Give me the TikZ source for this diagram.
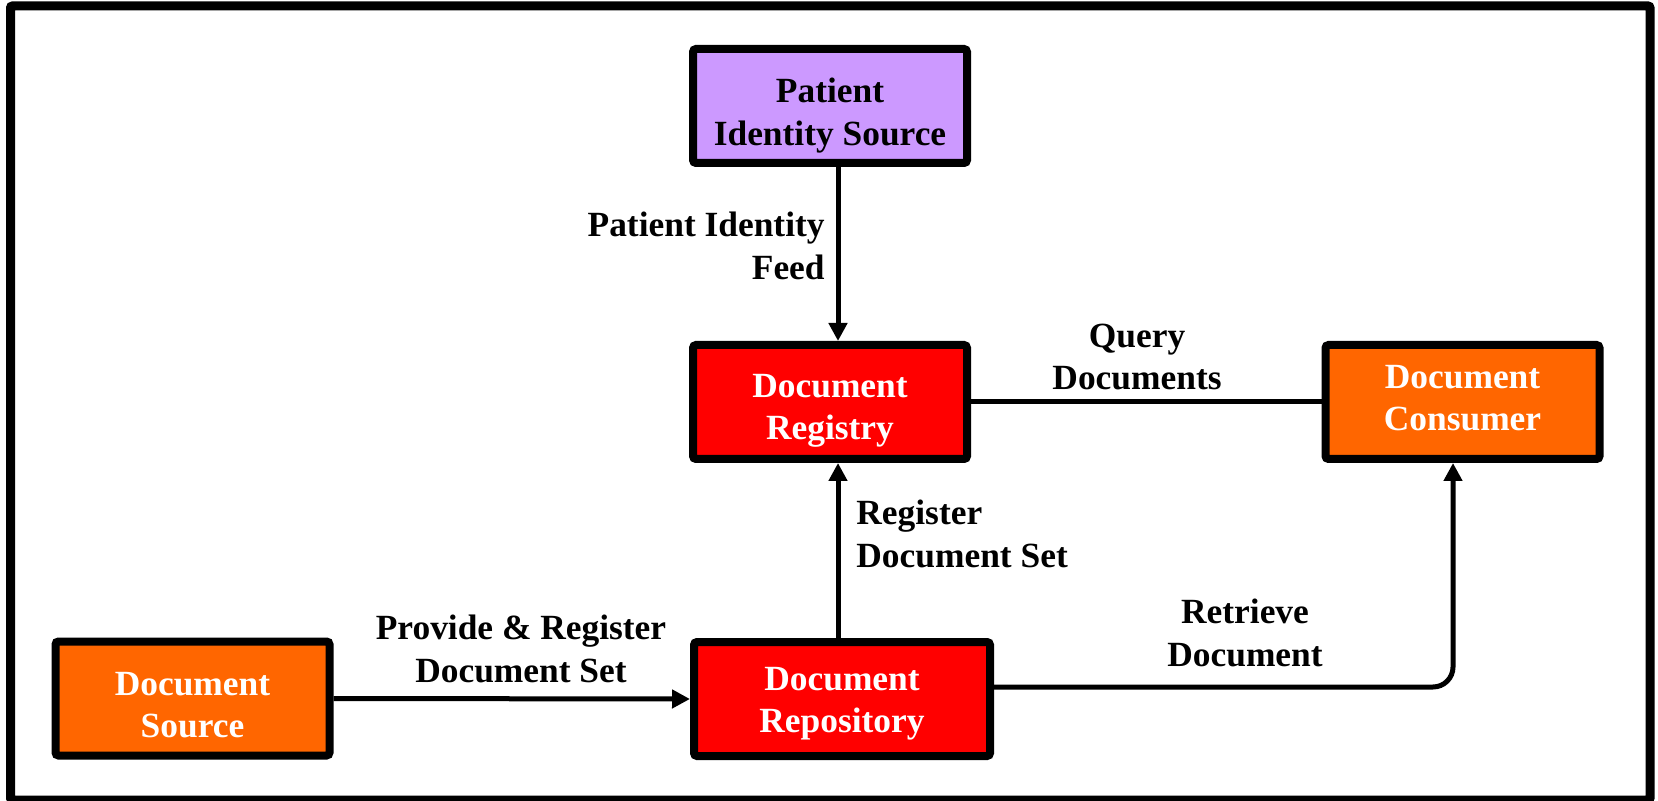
\documentclass[tikz,border=0pt]{standalone}
\usepackage{fontspec}
\setmainfont{Liberation Serif}
\usetikzlibrary{arrows.meta}
\definecolor{pisfill}{HTML}{CC99FF}
\definecolor{regfill}{HTML}{FF0000}
\definecolor{orfill}{HTML}{FF6600}
\newcommand{\tstrutup}[1]{\rule{0pt}{#1}}
\newcommand{\tstrutdn}[1]{\rule[-#1]{0pt}{0pt}}
\begin{document}
\begin{tikzpicture}[x=0.5pt,y=-0.5pt,
  box/.style={draw=black, line width=4pt, rounded corners=1.5pt,
    minimum width=137pt, minimum height=57pt, align=center, inner sep=0pt,
    font=\bfseries\fontsize{17.7}{21.2}\selectfont},
  lbl/.style={font=\bfseries\fontsize{17.7}{21.2}\selectfont, inner sep=0pt},
  conn/.style={line width=2.5pt, -{Triangle[length=9pt,width=9pt]}},
  plain/.style={line width=2.5pt}]
\useasboundingbox (0,0) rectangle (1658,801);
\draw[line width=4.5pt, rounded corners=1pt] (10.5,6) rectangle (1650,800);

\node[box, fill=pisfill, text=black] (pis) at (830,106) {\tstrutup{21.7pt}Patient\\Identity Source};
\node[box, fill=regfill, text=white] (reg) at (830,402) {\tstrutup{20.7pt}Document\\Registry};
\node[box, fill=orfill, text=white] (cons) at (1462.5,402) {Document\\Consumer\tstrutdn{4.2pt}};
\node[box, fill=orfill, text=white] (src) at (192.5,698.5) {\tstrutup{18pt}Document\\Source};
\node[box, fill=regfill, text=white, minimum width=148pt] (repo) at (842,699) {\tstrutup{16.4pt}Document\\Repository};

\draw[conn] ([xshift=4pt]pis.south) -- ([xshift=4pt]reg.north);
\draw[plain] (reg.east) -- (cons.west);
\draw[conn] (src.east) -- (repo.west);
\draw[conn] ([xshift=-2pt]repo.north) -- ([xshift=4pt]reg.south);
\draw[conn, rounded corners=10pt] ([yshift=6pt]repo.east) -| ([xshift=-4.75pt]cons.south);

\node[lbl, align=right, anchor=east] (lfeed) at (825,246) {Patient Identity\\Feed};
\node[lbl, align=center] (lquery) at (1137,357) {Query\\Documents};
\node[lbl, align=left, anchor=west] (lreg) at (856,534) {Register\\Document Set};
\node[lbl, align=center] (lprov) at (521,649) {Provide \& Register\\Document Set};
\node[lbl, align=center] (lret) at (1245,633) {Retrieve\\Document};
\end{tikzpicture}
\end{document}
